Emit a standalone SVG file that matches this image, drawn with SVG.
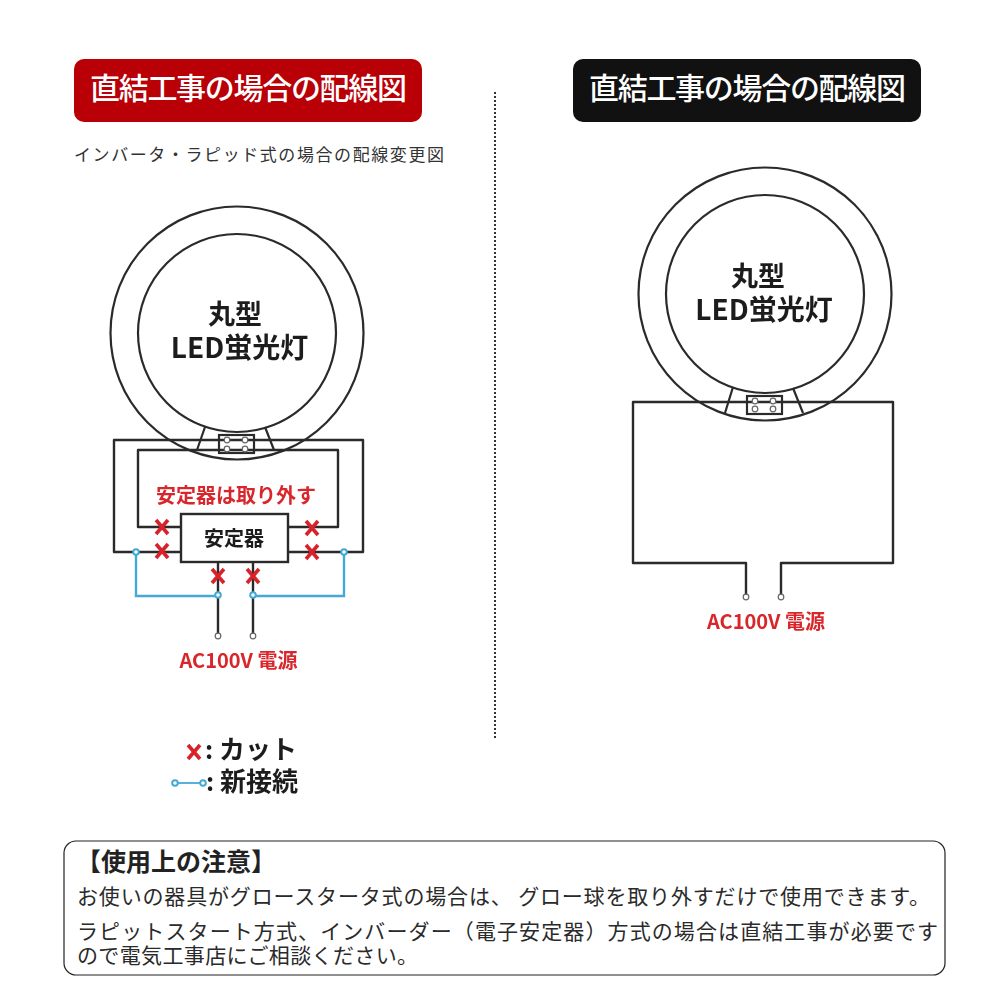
<svg xmlns="http://www.w3.org/2000/svg" width="1000" height="1000" viewBox="0 0 1000 1000">
<style>
text{font-family:"Noto Sans CJK JP","Noto Sans",sans-serif}
.w{fill:none;stroke:#2b2b2b;stroke-width:2.4;stroke-linejoin:round}
.r{fill:none;stroke:#2b2b2b;stroke-width:2.2}
.b{fill:none;stroke:#45a9d4;stroke-width:2.4}
.bd{fill:#fff;stroke:#45a9d4;stroke-width:2}
.t{fill:#fff;stroke:#666;stroke-width:1.2}
.x{fill:none;stroke:#d8202a;stroke-width:3.6}
.h{fill:#fff;font-size:30px;font-weight:500}
.red{fill:#d9262c;font-weight:700}
.blk{fill:#1c1c1c;font-weight:700}
.n{fill:#2a2a2a;font-size:21px}
</style>
<defs>
<filter id="soft" x="-5%" y="-5%" width="110%" height="110%"><feGaussianBlur stdDeviation="0.45"/></filter>
<g id="cut"><path class="x" d="M-6-7 6 7M6-7-6 7"/></g>
</defs>
<rect width="1000" height="1000" fill="#fff"/>

<g id="title-left"><rect x="74" y="59" width="348" height="63" rx="10" fill="#b80006"/>
<text class="h" x="90" y="99" textLength="317" lengthAdjust="spacing">直結工事の場合の配線図</text></g>
<g id="title-right"><rect x="573" y="59" width="348" height="63" rx="10" fill="#111"/>
<text class="h" x="589" y="99" textLength="317" lengthAdjust="spacing">直結工事の場合の配線図</text></g>
<text id="subtitle" x="74" y="161" font-size="17" fill="#333" textLength="370" lengthAdjust="spacing">インバータ・ラピッド式の場合の配線変更図</text>
<line id="divider" x1="495" y1="92" x2="495" y2="740" stroke="#333" stroke-width="2" stroke-dasharray="2 2"/>

<g filter="url(#soft)">
<g id="connectors">
<path class="w" d="M181 552H114V440H363V552H288"/>
<path class="w" d="M181 527H138V450H338V527H288"/>
<path class="w" d="M218 562V634M253 562V634"/>
<path class="b" d="M136 552V596H218M344 552V596H253"/>
<path class="w" d="M746 597V563H633V402H893V563H781V597"/>
</g>
<g id="lamp-left">
<circle class="r" cx="237" cy="333" r="126.500"/><circle class="r" cx="237" cy="333" r="99"/>
<path class="r" d="M205 427 197 450M265 427 274 450"/>
<rect class="r" x="219" y="435" width="35" height="18"/>
<circle class="t" cx="227" cy="440" r="2.800"/><circle class="t" cx="227" cy="449" r="2.800"/><circle class="t" cx="245" cy="440" r="2.800"/><circle class="t" cx="245" cy="449" r="2.800"/>
<text class="blk" x="235" y="324" font-size="27" text-anchor="middle">丸型</text>
<text class="blk" x="239.500" y="358" font-size="28" text-anchor="middle">LED蛍光灯</text>
</g>
<g id="ballast"><rect x="181" y="514" width="107" height="48" fill="#fff" stroke="#2b2b2b" stroke-width="2.400"/>
<text class="blk" x="234" y="546" font-size="20" text-anchor="middle">安定器</text></g>
<text id="remove-label" class="red" x="236" y="503" font-size="20" text-anchor="middle">安定器は取り外す</text>
<g id="cuts">
<use href="#cut" x="162" y="527"/><use href="#cut" x="162" y="551"/>
<use href="#cut" x="312" y="528"/><use href="#cut" x="312" y="552"/>
<use href="#cut" x="218" y="576"/><use href="#cut" x="253" y="576"/>
</g>
<g id="new-joints">
<circle class="bd" cx="136" cy="552" r="2.800"/><circle class="bd" cx="344" cy="552" r="2.800"/>
<circle class="bd" cx="218" cy="595" r="2.800"/><circle class="bd" cx="253" cy="595" r="2.800"/>
</g>
<g id="terminals-left"><circle class="t" cx="218" cy="636" r="2.800"/><circle class="t" cx="253" cy="636" r="2.800"/></g>
<text id="ac-left" class="red" x="238.500" y="668" font-size="20" text-anchor="middle">AC100V 電源</text>

<g id="lamp-right">
<circle class="r" cx="765" cy="294" r="126.500"/><circle class="r" cx="765" cy="294" r="99"/>
<path class="r" d="M733 387 725 413M793 388 803 413"/>
<rect class="r" x="747" y="396" width="35" height="18"/>
<circle class="t" cx="755" cy="401" r="2.800"/><circle class="t" cx="755" cy="409" r="2.800"/><circle class="t" cx="773" cy="401" r="2.800"/><circle class="t" cx="773" cy="409" r="2.800"/>
<text class="blk" x="758" y="286" font-size="27" text-anchor="middle">丸型</text>
<text class="blk" x="764" y="320" font-size="28" text-anchor="middle">LED蛍光灯</text>
</g>
<g id="terminals-right"><circle class="t" cx="746" cy="597" r="2.800"/><circle class="t" cx="781" cy="597" r="2.800"/></g>
<text id="ac-right" class="red" x="766" y="629" font-size="20" text-anchor="middle">AC100V 電源</text>

<g id="legend">
<use href="#cut" x="194" y="752"/>
<text class="blk" x="205" y="759" font-size="25">:</text>
<text class="blk" x="219" y="759" font-size="26">カット</text>
<path d="M175 783H205" stroke="#45a9d4" stroke-width="1.800"/>
<circle class="bd" cx="175" cy="783" r="2.800"/><circle class="bd" cx="203" cy="783" r="2.800"/>
<text class="blk" x="206" y="791" font-size="25">:</text>
<text class="blk" x="220" y="791" font-size="26">新接続</text>
</g>
</g>

<g id="notice">
<rect x="64" y="841" width="881" height="134" rx="12" fill="#fff" stroke="#222" stroke-width="1.200"/>
<text x="76" y="871" font-size="25" font-weight="700" fill="#222">【使用上の注意】</text>
<text class="n" x="77" y="904" textLength="853" lengthAdjust="spacing">お使いの器具がグロースタータ式の場合は、 グロー球を取り外すだけで使用できます。</text>
<text class="n" x="77" y="939" textLength="861" lengthAdjust="spacing">ラピットスタート方式、インバーダー（電子安定器）方式の場合は直結工事が必要です</text>
<text class="n" x="77" y="963" textLength="341" lengthAdjust="spacing">ので電気工事店にご相談ください。</text>
</g>
</svg>
